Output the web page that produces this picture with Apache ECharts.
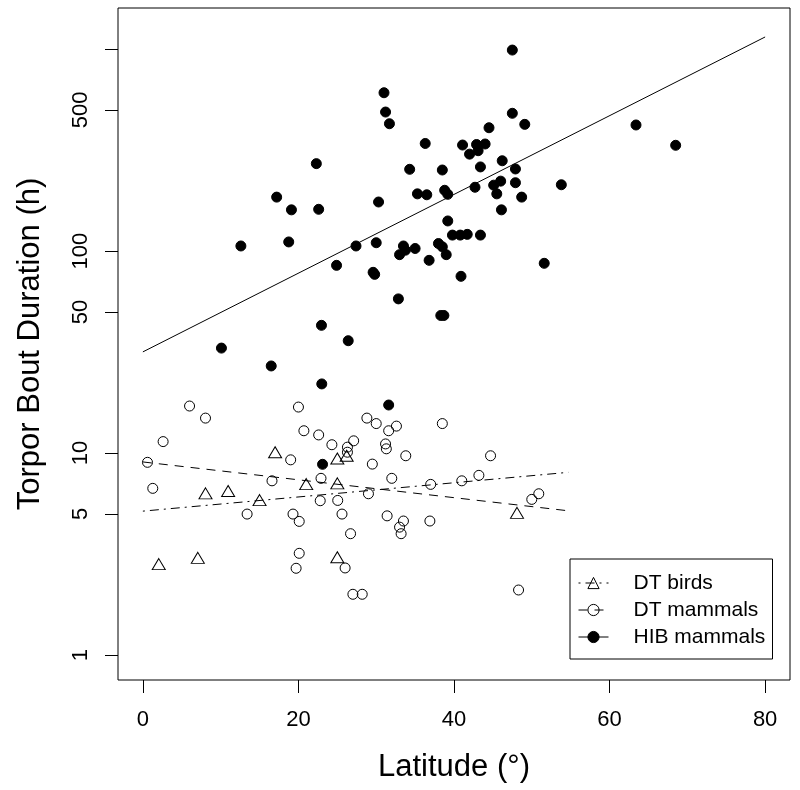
<!DOCTYPE html>
<html>
<head>
<meta charset="utf-8">
<script src="https://cdn.jsdelivr.net/npm/echarts@6/dist/echarts.min.js"></script>
<style>html,body{margin:0;padding:0;background:#fff}#c{width:800px;height:790px}</style>
</head>
<body>
<div id="c"></div>
<script>
// ---- data (latitude in degrees, torpor bout duration in hours) ----
const seriesNames = ['DT birds', 'DT mammals', 'HIB mammals'];

const birdLat = [17.0, 8.05, 10.96, 15.0, 21.0, 2.04, 7.06, 25.0, 26.2, 25.0, 48.1, 25.0];
const birdTBD = [10.1, 6.32, 6.49, 5.85, 7.02, 2.82, 3.03, 9.41, 9.70, 7.08, 5.06, 3.05];

const dtMamLat = [0.59, 1.27, 2.6, 6.0, 8.05, 20.0, 20.7, 22.6, 24.3, 19.0, 16.6, 22.9, 22.8, 13.4, 19.3, 20.1, 20.1, 19.7,
  28.8, 30.0, 31.6, 32.6, 38.5, 26.3, 26.3, 27.1, 31.2, 31.3, 33.8, 29.5, 44.7, 32.0, 37.0, 41.0, 43.2, 29.0,
  25.05, 25.6, 31.4, 33.5, 33.0, 33.2, 36.9, 26.7, 50.9, 50.0, 26.0, 27.0, 28.2, 48.3];
const dtMamTBD = [9.0, 6.69, 11.4, 17.1, 14.9, 16.9, 12.9, 12.3, 11.0, 9.26, 7.29, 7.50, 5.81, 4.99, 4.99, 4.59, 3.19, 2.69,
  14.9, 14.0, 12.9, 13.6, 14.0, 10.7, 10.1, 11.5, 11.1, 10.5, 9.70, 8.82, 9.70, 7.50, 7.00, 7.29, 7.76, 6.29,
  5.83, 4.99, 4.89, 4.61, 4.30, 3.99, 4.61, 3.99, 6.29, 5.90, 2.70, 2.00, 2.00, 2.10];

const hibLat = [31.0, 31.2, 31.7, 22.3, 17.2, 19.1, 22.6, 30.3, 12.6, 18.75, 27.4, 30.0, 47.5, 47.5, 49.1, 44.5, 36.3, 41.1,
  42.9, 44.0, 42.0, 43.1, 34.3, 38.5, 46.2, 43.4, 47.9, 53.8, 35.3, 36.5, 38.8, 39.2, 42.7, 45.1, 46.0, 45.5, 47.9,
  48.7, 46.1, 39.2, 39.8, 40.8, 41.7, 43.4, 33.5, 35.0, 38.0, 38.5, 33.75, 33.0, 39.0, 36.8, 40.9, 51.6, 32.85, 38.3,
  38.7, 63.4, 68.5, 24.9, 29.6, 29.8, 22.96, 26.4, 10.1, 16.5, 23.0, 31.6, 23.1];
const hibTBD = [608, 488, 427, 271, 185, 160, 161, 175, 106, 111, 106, 110, 989, 481, 424, 408, 341, 335,
  337, 339, 302, 314, 254, 252, 280, 261, 255, 213, 192, 190, 200, 191, 207, 212, 222, 192, 218,
  185, 160, 141, 120, 120, 121, 120, 106, 103, 109, 105, 101, 96, 96, 90, 75, 87, 58, 48,
  48, 421, 334, 85, 78.5, 76.7, 42.9, 36.0, 33.1, 27.0, 22.0, 17.3, 8.8];

// fitted regression lines (end points: latitude, duration)
const birdFitLat = [0, 54.7];
const birdFitTBD = [5.16, 8.03];
const dtMamFitLat = [0, 54.7];
const dtMamFitTBD = [9.04, 5.18];
const hibFitLat = [0, 80];
const hibFitTBD = [31.7, 1148];

// ticks
const xTickValues = [0, 20, 40, 60, 80];
const yTickValues = [1, 5, 10, 50, 100, 500, 1000];
const yTickLabels = ['1', '5', '10', '50', '100', '500'];

// ---- build ----
const L = Math.log10;
const pairs = (xs, ys) => xs.map((x, i) => [x, L(ys[i])]);
const FONT = "'Liberation Sans', Arial, Helvetica, sans-serif";
const yLabelPos = yTickLabels.map(Number).map(L);

const chart = echarts.init(document.getElementById('c'), null, { renderer: 'canvas' });

const hollow = { color: 'transparent', borderColor: '#000', borderWidth: 1, opacity: 1 };
const filled = { color: '#000', borderColor: '#000', borderWidth: 1, opacity: 1 };

chart.setOption({
  animation: false,
  backgroundColor: '#fff',
  textStyle: { fontFamily: FONT, color: '#000' },
  grid: { left: 118, top: 8, width: 672, height: 672, show: true, borderColor: '#000', borderWidth: 1, backgroundColor: 'transparent' },
  xAxis: {
    type: 'value', min: -3.2, max: 83.2,
    name: 'Latitude (°)', nameLocation: 'middle', nameGap: 72,
    nameTextStyle: { fontSize: 31, color: '#000', fontFamily: FONT },
    axisLine: { show: false, onZero: false },
    axisTick: { show: true, inside: false, length: 13, customValues: xTickValues, lineStyle: { color: '#000', width: 1 } },
    axisLabel: { customValues: xTickValues, fontSize: 22, color: '#000', margin: 29, fontFamily: FONT },
    splitLine: { show: false }
  },
  yAxis: {
    type: 'value', min: -0.1233, max: 3.2034,
    name: 'Torpor Bout Duration (h)', nameLocation: 'middle', nameGap: 72, nameRotate: 90,
    nameTextStyle: { fontSize: 31, color: '#000', fontFamily: FONT },
    axisLine: { show: false, onZero: false },
    axisTick: { show: true, inside: false, length: 13, customValues: yTickValues.map(L), lineStyle: { color: '#000', width: 1 } },
    axisLabel: {
      customValues: yLabelPos, rotate: 90, fontSize: 22, color: '#000', margin: 26, fontFamily: FONT,
      formatter: (v) => { const i = yLabelPos.findIndex(t => Math.abs(t - v) < 1e-6); return i >= 0 ? yTickLabels[i] : ''; }
    },
    splitLine: { show: false }
  },
  legend: {
    data: seriesNames,
    orient: 'vertical', left: 570, top: 559,
    backgroundColor: '#fff', borderColor: '#000', borderWidth: 1,
    padding: [13, 5, 11, 8],
    itemWidth: 30, itemHeight: 14, itemGap: 5,
    selectedMode: false,
    lineStyle: { width: 1 },
    itemStyle: { borderWidth: 1 },
    textStyle: { fontSize: 21, color: '#000', fontFamily: FONT, lineHeight: 22, width: 134, padding: [0, 0, 0, 20] }
  },
  series: [
    { name: seriesNames[0], type: 'line', data: pairs(birdFitLat, birdFitTBD), showSymbol: false, symbol: 'triangle', symbolSize: [13, 11],
      itemStyle: hollow, lineStyle: { color: '#000', width: 1, type: [2, 5, 9, 5] }, silent: true, z: 2 },
    { name: seriesNames[1], type: 'line', data: pairs(dtMamFitLat, dtMamFitTBD), showSymbol: false, symbol: 'circle', symbolSize: 10,
      itemStyle: hollow, lineStyle: { color: '#000', width: 1, type: [9, 7] }, silent: true, z: 2 },
    { name: seriesNames[2], type: 'line', data: pairs(hibFitLat, hibFitTBD), showSymbol: false, symbol: 'circle', symbolSize: 11,
      itemStyle: filled, lineStyle: { color: '#000', width: 1, type: 'solid' }, silent: true, z: 2 },
    { name: seriesNames[0], type: 'scatter', data: pairs(birdLat, birdTBD), symbol: 'triangle', symbolSize: [13, 11], itemStyle: hollow, z: 3 },
    { name: seriesNames[1], type: 'scatter', data: pairs(dtMamLat, dtMamTBD), symbol: 'circle', symbolSize: 10, itemStyle: hollow, z: 3 },
    { name: seriesNames[2], type: 'scatter', data: pairs(hibLat, hibTBD), symbol: 'circle', symbolSize: 10, itemStyle: filled, z: 3 }
  ]
});
</script>
</body>
</html>
